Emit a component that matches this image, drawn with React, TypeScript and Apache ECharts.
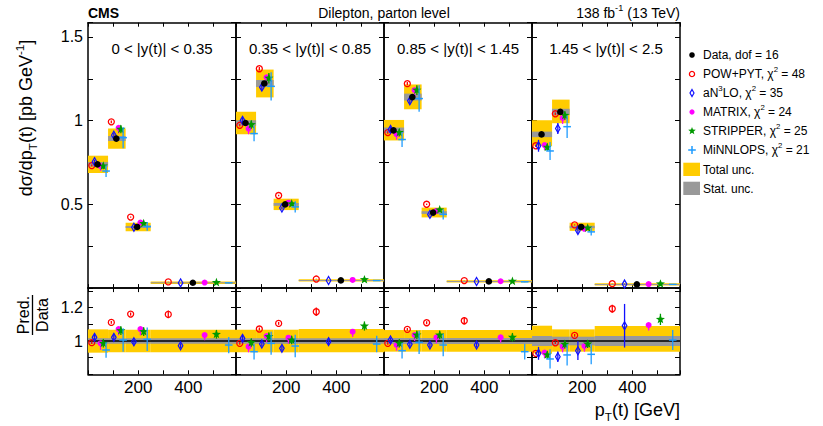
import React, { useEffect, useRef } from "react";
import * as echarts from "echarts";

const FONT = "'Liberation Sans', Arial, Helvetica, sans-serif";

// ---------- data ----------
const X_MAX = 590;
const BIN_EDGES = [0, 80, 150, 250, 590];
const X_TICK_LABELS = [200, 400];
const Y_TICK_LABELS = [0.5, 1, 1.5];
const RATIO_TICK_LABELS = [1, 1.2];
const PANEL_LABELS = [
  "0 < |y(t)| < 0.35",
  "0.35 < |y(t)| < 0.85",
  "0.85 < |y(t)| < 1.45",
  "1.45 < |y(t)| < 2.5",
];

// measured cross section per |y| panel, per pT bin [pb/GeV]
const DATA = [
  [0.739, 0.893, 0.365, 0.032],
  [0.986, 1.222, 0.5, 0.046],
  [0.942, 1.141, 0.451, 0.04],
  [0.918, 1.052, 0.365, 0.022],
];
// relative uncertainties
const TOTAL_UP = [
  [0.07, 0.068, 0.068, 0.068],
  [0.068, 0.068, 0.068, 0.072],
  [0.066, 0.066, 0.066, 0.066],
  [0.092, 0.07, 0.07, 0.09],
];
const TOTAL_DOWN = [
  [0.07, 0.068, 0.068, 0.068],
  [0.068, 0.068, 0.068, 0.068],
  [0.064, 0.064, 0.064, 0.064],
  [0.074, 0.064, 0.064, 0.064],
];
const STAT_TOP = [
  [0.018, 0.017, 0.017, 0.017],
  [0.017, 0.017, 0.017, 0.017],
  [0.018, 0.018, 0.018, 0.018],
  [0.018, 0.018, 0.02, 0.03],
];
const STAT_RATIO = [
  [0.017, 0.017, 0.017, 0.017],
  [0.017, 0.017, 0.017, 0.017],
  [0.018, 0.018, 0.018, 0.018],
  [0.03, 0.026, 0.026, 0.03],
];

// displayed pT positions of the markers in each bin [GeV]
const X_DATA = [38, 113, 196, 418];
const X_POWPYT = [15, 93, 170, 320];
const X_ANNNLO = [26, 103, 183, 369];
const X_MATRIX = [50, 122, 209, 465];
const X_STRIPPER = [61, 131, 222, 512];
const X_MINNLOPS = [72, 140, 236, 561];

// predictions [pb/GeV]
const POWPYT = [
  [0.7316, 0.993, 0.4241, 0.03712],
  [0.9722, 1.31, 0.553, 0.0541],
  [0.9288, 1.2209, 0.5006, 0.04488],
  [0.85, 1.041, 0.3774, 0.02627],
];
const ANNNLO = [
  [0.7553, 0.9126, 0.3635, 0.0311],
  [1.0018, 1.2, 0.478, 0.04582],
  [0.9477, 1.1182, 0.4402, 0.03904],
  [0.85, 0.953, 0.3438, 0.02402],
];
const MATRIX = [
  [0.7287, 0.9573, 0.3913, 0.03315],
  [0.9525, 1.2587, 0.51, 0.04858],
  [0.9194, 1.1821, 0.4609, 0.04088],
  [0.854, 1.016, 0.3541, 0.02411],
];
const STRIPPER = [
  [0.7287, 0.9484, 0.3854, 0.03328],
  [0.9761, 1.2538, 0.503, 0.05014],
  [0.9288, 1.1821, 0.4672, 0.04088],
  [0.841, 1.031, 0.3584, 0.02486],
];
const MINNLOPS = [
  [0.6991, 0.8984, 0.3687, 0.03123],
  [0.9229, 1.2049, 0.485, 0.04517],
  [0.8874, 1.1319, 0.4402, 0.03744],
  [0.819, 0.964, 0.3358, 0.02213],
];

// relative prediction uncertainties
const ERR_POWPYT = [
  [0.008, 0.008, 0.008, 0.02],
  [0.008, 0.008, 0.008, 0.022],
  [0.008, 0.008, 0.008, 0.02],
  [0.008, 0.008, 0.008, 0.02],
];
const ERR_ANNNLO = [
  [0.015, 0.015, 0.015, 0.015],
  [0.015, 0.015, 0.015, 0.015],
  [0.015, 0.015, 0.015, 0.015],
  [0.042, 0.035, 0.06, 0.12],
];
const ERR_MATRIX_UP = [
  [0.01, 0.01, 0.01, 0.01],
  [0.01, 0.01, 0.01, 0.01],
  [0.01, 0.01, 0.01, 0.01],
  [0.01, 0.01, 0.01, 0.01],
];
const ERR_MATRIX_DOWN = [
  [0.04, 0.035, 0.035, 0.03],
  [0.035, 0.035, 0.035, 0.03],
  [0.035, 0.035, 0.035, 0.03],
  [0.035, 0.035, 0.035, 0.03],
];
const ERR_STRIPPER = [
  [0.025, 0.025, 0.025, 0.025],
  [0.025, 0.025, 0.025, 0.025],
  [0.025, 0.025, 0.025, 0.025],
  [0.025, 0.025, 0.025, 0.03],
];
const ERR_MINNLOPS = [
  [0.05, 0.07, 0.07, 0.05],
  [0.05, 0.07, 0.07, 0.05],
  [0.05, 0.07, 0.07, 0.05],
  [0.065, 0.07, 0.065, 0.06],
];

const LEGEND_TEXT = [
  "{n|Data, dof = 16}",
  "{n|POW+PYT, χ}{sup|2}{n| = 48}",
  "{n|aN}{sup|3}{n|LO, χ}{sup|2}{n| = 35}",
  "{n|MATRIX, χ}{sup|2}{n| = 24}",
  "{n|STRIPPER, χ}{sup|2}{n| = 25}",
  "{n|MiNNLOPS, χ}{sup|2}{n| = 21}",
];

// ---------- styling ----------
const YELLOW = "#ffcc00";
const GRAY = "#999999";

type Model = {
  name: string;
  pred: number[][];
  x: number[];
  up: number[][];
  down: number[][];
  color: string;
  shape: string;
};

const MODELS: Model[] = [
  { name: "POW+PYT", pred: POWPYT, x: X_POWPYT, up: ERR_POWPYT, down: ERR_POWPYT, color: "#ff0000", shape: "ocircle" },
  { name: "aN3LO", pred: ANNNLO, x: X_ANNNLO, up: ERR_ANNNLO, down: ERR_ANNNLO, color: "#1010ff", shape: "diamond" },
  { name: "MATRIX", pred: MATRIX, x: X_MATRIX, up: ERR_MATRIX_UP, down: ERR_MATRIX_DOWN, color: "#ff00ff", shape: "fcircle" },
  { name: "STRIPPER", pred: STRIPPER, x: X_STRIPPER, up: ERR_STRIPPER, down: ERR_STRIPPER, color: "#009900", shape: "star" },
  { name: "MiNNLOPS", pred: MINNLOPS, x: X_MINNLOPS, up: ERR_MINNLOPS, down: ERR_MINNLOPS, color: "#1e9bff", shape: "cross" },
];

function starPoints(cx: number, cy: number, ro: number, ri: number) {
  const pts: number[][] = [];
  for (let k = 0; k < 10; k++) {
    const a = -Math.PI / 2 + (k * Math.PI) / 5;
    const r = k % 2 === 0 ? ro : ri;
    pts.push([cx + r * Math.cos(a), cy + r * Math.sin(a)]);
  }
  return pts;
}

function markerEls(shape: string, color: string, cx: number, cy: number): any[] {
  switch (shape) {
    case "dot":
      return [{ type: "circle", shape: { cx, cy, r: 3.3 }, style: { fill: "#000" } }];
    case "ocircle":
      return [{ type: "circle", shape: { cx, cy, r: 3 }, style: { fill: "none", stroke: color, lineWidth: 1.3 } }];
    case "diamond":
      return [
        {
          type: "polygon",
          shape: { points: [[cx, cy - 4], [cx + 2.3, cy], [cx, cy + 4], [cx - 2.3, cy]] },
          style: { fill: "none", stroke: color, lineWidth: 1.2 },
        },
      ];
    case "fcircle":
      return [{ type: "circle", shape: { cx, cy, r: 3 }, style: { fill: color } }];
    case "star":
      return [{ type: "polygon", shape: { points: starPoints(cx, cy, 4.8, 2) }, style: { fill: color } }];
    case "cross":
      return [{ type: "line", shape: { x1: cx - 3.8, y1: cy, x2: cx + 3.8, y2: cy }, style: { stroke: color, lineWidth: 1.5 } }];
  }
  return [];
}

const L0 = 88;
const PW = 148;
const TOP_Y = 22.7;
const TOP_H = 265.4;
const RATIO_Y = 288.1;
const RATIO_H = 86.2;

function near(list: number[], v: number) {
  for (const t of list) if (Math.abs(t - v) < 1e-6) return String(t);
  return "";
}

function axisLineCfg() {
  return { show: true, onZero: false, lineStyle: { color: "#000", width: 1.5 } };
}

function buildOption() {
  const grid: any[] = [];
  const xAxis: any[] = [];
  const yAxis: any[] = [];
  const series: any[] = [];

  for (let g = 0; g < 8; g++) {
    const p = g % 4;
    const ratio = g >= 4;
    grid.push({
      left: L0 + PW * p,
      width: PW,
      top: ratio ? RATIO_Y : TOP_Y,
      height: ratio ? RATIO_H : TOP_H,
    });
    for (const pos of ["bottom", "top"]) {
      xAxis.push({
        type: "value",
        gridIndex: g,
        position: pos,
        min: 0,
        max: X_MAX,
        interval: 100,
        axisLine: axisLineCfg(),
        axisTick: { show: true, inside: true, length: 4, lineStyle: { color: "#000", width: 1 } },
        axisLabel: {
          show: ratio && pos === "bottom",
          margin: 5,
          fontSize: 17,
          color: "#000",
          fontFamily: FONT,
          formatter: (v: number) => near(X_TICK_LABELS, v),
        },
        splitLine: { show: false },
      });
    }
    for (const pos of ["left", "right"]) {
      yAxis.push({
        type: "value",
        gridIndex: g,
        position: pos,
        min: ratio ? 0.8 : 0,
        max: ratio ? 1.318 : 1.585,
        interval: ratio ? 0.1 : 0.25,
        axisLine: axisLineCfg(),
        axisTick: { show: true, inside: true, length: 5, lineStyle: { color: "#000", width: 1 } },
        axisLabel: {
          show: p === 0 && pos === "left",
          margin: 5,
          fontSize: 16,
          color: "#000",
          fontFamily: FONT,
          formatter: (v: number) => near(ratio ? RATIO_TICK_LABELS : Y_TICK_LABELS, v),
        },
        splitLine: { show: false },
      });
    }

    const xi = g * 2;
    const yi = g * 2;

    // uncertainty boxes
    const boxSeries = (rows: number[][], color: string, minH: number) => ({
      type: "custom",
      xAxisIndex: xi,
      yAxisIndex: yi,
      silent: true,
      data: rows,
      renderItem: (_: any, api: any) => {
        const a = api.coord([api.value(0), api.value(3)]);
        const b = api.coord([api.value(1), api.value(2)]);
        let y = a[1];
        let h = b[1] - a[1];
        if (h < minH) {
          y = (a[1] + b[1]) / 2 - minH / 2;
          h = minH;
        }
        return { type: "rect", shape: { x: a[0], y, width: b[0] - a[0], height: h }, style: { fill: color } };
      },
    });

    const totRows: number[][] = [];
    const statRows: number[][] = [];
    for (let b = 0; b < 4; b++) {
      const d = ratio ? 1 : DATA[p][b];
      const s = ratio ? STAT_RATIO[p][b] : STAT_TOP[p][b];
      totRows.push([BIN_EDGES[b], BIN_EDGES[b + 1], d * (1 - TOTAL_DOWN[p][b]), d * (1 + TOTAL_UP[p][b])]);
      statRows.push([BIN_EDGES[b], BIN_EDGES[b + 1], d * (1 - s), d * (1 + s)]);
    }
    series.push(boxSeries(totRows, YELLOW, 2.4));
    series.push(boxSeries(statRows, GRAY, 1));

    if (ratio) {
      series.push({
        type: "custom",
        xAxisIndex: xi,
        yAxisIndex: yi,
        silent: true,
        data: [[0, X_MAX, 1]],
        renderItem: (_: any, api: any) => {
          const a = api.coord([api.value(0), api.value(2)]);
          const b = api.coord([api.value(1), api.value(2)]);
          return { type: "line", shape: { x1: a[0], y1: a[1], x2: b[0], y2: b[1] }, style: { stroke: "#000", lineWidth: 1.6 } };
        },
      });
    }

    // predictions
    for (const m of MODELS) {
      const rows: number[][] = [];
      for (let b = 0; b < 4; b++) {
        const v = ratio ? m.pred[p][b] / DATA[p][b] : m.pred[p][b];
        rows.push([m.x[b], v, v * (1 - m.down[p][b]), v * (1 + m.up[p][b])]);
      }
      series.push({
        type: "custom",
        name: m.name,
        xAxisIndex: xi,
        yAxisIndex: yi,
        silent: true,
        data: rows,
        renderItem: (_: any, api: any) => {
          const c = api.coord([api.value(0), api.value(1)]);
          const lo = api.coord([api.value(0), api.value(2)]);
          const hi = api.coord([api.value(0), api.value(3)]);
          return {
            type: "group",
            children: [
              { type: "line", shape: { x1: c[0], y1: lo[1], x2: c[0], y2: hi[1] }, style: { stroke: m.color, lineWidth: 1.3 } },
              ...markerEls(m.shape, m.color, c[0], c[1]),
            ],
          };
        },
      });
    }

    if (!ratio) {
      series.push({
        type: "custom",
        name: "Data",
        xAxisIndex: xi,
        yAxisIndex: yi,
        silent: true,
        data: DATA[p].map((v, b) => [X_DATA[b], v]),
        renderItem: (_: any, api: any) => {
          const c = api.coord([api.value(0), api.value(1)]);
          return { type: "group", children: markerEls("dot", "#000", c[0], c[1]) };
        },
      });
    }
  }

  // ---------- graphic texts / legend ----------
  const txt = (x: number, y: number, text: string, size: number, align: string, extra: any = {}) => ({
    type: "text",
    x,
    y,
    silent: true,
    style: {
      text,
      fontSize: size,
      fontFamily: FONT,
      fill: "#000",
      textAlign: align,
      align,
      textVerticalAlign: "middle",
      verticalAlign: "middle",
      ...extra,
    },
  });
  const richStyles = (size: number) => ({
    n: { fontSize: size, fontFamily: FONT, fill: "#000", lineHeight: size * 1.35, verticalAlign: "middle" },
    sup: { fontSize: size * 0.65, fontFamily: FONT, fill: "#000", lineHeight: size * 0.7, verticalAlign: "top" },
    sub: { fontSize: size * 0.65, fontFamily: FONT, fill: "#000", lineHeight: size * 0.7, verticalAlign: "bottom" },
  });

  const elements: any[] = [];
  elements.push(txt(L0, 13, "CMS", 14, "left", { fontWeight: "bold" }));
  elements.push(txt(L0 + PW * 2, 12.5, "Dilepton, parton level", 14, "center"));
  elements.push(txt(L0 + PW * 4, 13, "{n|138 fb}{sup|-1}{n| (13 TeV)}", 14, "right", { rich: richStyles(14) }));
  for (let p = 0; p < 4; p++) {
    elements.push(txt(L0 + PW * p + PW / 2, 48, PANEL_LABELS[p], 15, "center"));
  }
  // axis titles
  elements.push({
    ...txt(26, 118, "{n|dσ/dp}{sub|T}{n|(t) [pb GeV}{sup|-1}{n|]}", 18, "center", { rich: richStyles(18) }),
    rotation: Math.PI / 2,
  });
  elements.push(txt(L0 + PW * 4, 410, "{n|p}{sub|T}{n|(t) [GeV]}", 18, "right", { rich: richStyles(18) }));
  elements.push({
    type: "group",
    x: 32.5,
    y: 315,
    rotation: Math.PI / 2,
    children: [
      txt(0, -9, "Pred.", 16, "center"),
      { type: "line", shape: { x1: -20, y1: 0, x2: 20, y2: 0 }, style: { stroke: "#000", lineWidth: 1.3 } },
      txt(0, 9.5, "Data", 16, "center"),
    ],
  });

  // legend
  const LX = 692;
  const LT = 55;
  const LS = 19;
  const legendShapes = ["dot", ...MODELS.map((m) => m.shape)];
  const legendColors = ["#000", ...MODELS.map((m) => m.color)];
  for (let i = 0; i < 6; i++) {
    const y = LT + i * LS;
    const els = markerEls(legendShapes[i], legendColors[i], LX, y);
    if (legendShapes[i] === "cross") {
      els.push({ type: "line", shape: { x1: LX, y1: y - 4, x2: LX, y2: y + 4 }, style: { stroke: legendColors[i], lineWidth: 1.5 } });
    }
    if (legendShapes[i] === "dot") els[0].shape.r = 2.8;
    if (legendShapes[i] === "ocircle") els[0].shape.r = 2.6;
    if (legendShapes[i] === "fcircle") els[0].shape.r = 2.6;
    if (legendShapes[i] === "diamond") els[0].shape.points = [[LX, y - 3.5], [LX + 2, y], [LX, y + 3.5], [LX - 2, y]];
    if (legendShapes[i] === "star") els[0].shape.points = starPoints(LX, y, 4, 1.7);
    elements.push(...els.map((e) => ({ ...e, silent: true })));
    elements.push(txt(703, y, LEGEND_TEXT[i], 12, "left", { rich: richStyles(12) }));
  }
  elements.push({ type: "rect", shape: { x: 683.3, y: 162.7, width: 16.7, height: 13.3 }, style: { fill: YELLOW } });
  elements.push(txt(703, 169.5, "Total unc.", 12, "left"));
  elements.push({ type: "rect", shape: { x: 683.3, y: 181.7, width: 16.7, height: 13.3 }, style: { fill: GRAY } });
  elements.push(txt(703, 188.5, "Stat. unc.", 12, "left"));

  return {
    animation: false,
    backgroundColor: "#fff",
    textStyle: { fontFamily: FONT },
    grid,
    xAxis,
    yAxis,
    series,
    graphic: { elements },
  };
}

export default function App() {
  const ref = useRef<HTMLDivElement>(null);
  useEffect(() => {
    const chart = echarts.init(ref.current!, null, { renderer: "svg" });
    chart.setOption(buildOption() as any);
    return () => chart.dispose();
  }, []);
  return (
    <div
      ref={ref}
      style={{ position: "fixed", left: 0, top: 0, width: 823, height: 426, background: "#fff" }}
    />
  );
}
